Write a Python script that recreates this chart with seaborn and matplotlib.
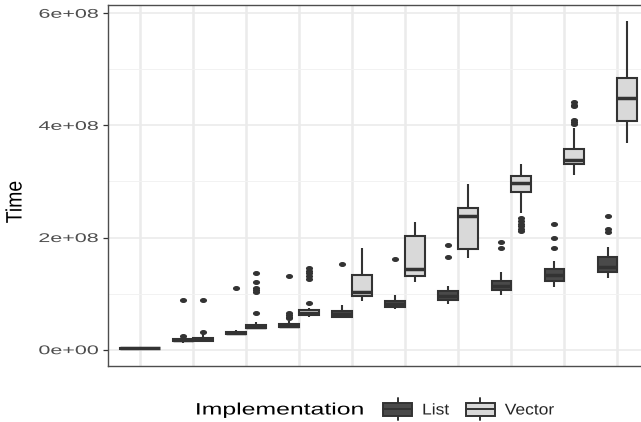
import numpy as np
import pandas as pd
import matplotlib.pyplot as plt
import seaborn as sns
from matplotlib import patheffects as pe
from matplotlib.transforms import Affine2D
from matplotlib.path import Path
from matplotlib.patches import Patch, Rectangle
from matplotlib.lines import Line2D
from matplotlib.legend_handler import HandlerBase
from matplotlib.ticker import MultipleLocator, FuncFormatter

# Data (times in 1e6 units), one box per size and implementation
sizes = ["1", "2", "3", "4", "5", "6", "7", "8", "9", "10"]
impls = ["List", "Vector"]

list_lo = [1, 12, 26, 39, 56, 72, 82, 98, 112, 127]
list_q1 = [1.8, 15, 28, 41, 59, 76, 88, 106, 122, 138]
list_med = [2.5, 16.5, 29.5, 43, 64, 81, 96, 114, 133, 147]
list_q3 = [3.2, 18.5, 31.5, 46, 69, 86, 104, 122, 143, 166]
list_hi = [4.5, 22, 35, 52, 79, 98, 113, 138, 159, 183]
list_out = [[], [25, 88], [110], [56, 59, 62, 65, 131], [153], [162],
            [166, 186], [182, 192], [182, 199, 224], [210, 215, 239]]

vec_lo = [1.5, 14, 36, 59, 86, 120, 163, 243, 311, 369]
vec_q1 = [2.2, 15.5, 38, 62, 96, 132, 179, 282, 331, 408]
vec_med = [3, 18.5, 41, 66, 103, 143, 239, 298, 338, 448]
vec_q3 = [3.8, 21, 44, 70, 134, 202, 253, 309, 358, 484]
vec_hi = [5.5, 28, 50, 74, 182, 227, 295, 332, 396, 586]
vec_out = [[], [31, 88], [65, 103, 106, 110, 121, 137], [83, 126, 131, 136, 140, 145],
           [], [], [], [212, 216, 220, 225, 230, 234], [402, 406, 410, 434, 437, 441], []]

LIST_FILL = "#4A4A4A"
VEC_FILL = "#D9D9D9"
EDGE = "#333333"

# observations that give exactly the read quartiles / whisker ends / outliers
rows = []
groups = [("List", list_lo, list_q1, list_med, list_q3, list_hi, list_out),
          ("Vector", vec_lo, vec_q1, vec_med, vec_q3, vec_hi, vec_out)]
for impl, lo, q1, med, q3, hi, out in groups:
    for i, s in enumerate(sizes):
        vals = [lo[i]] + [q1[i]] * 10 + [med[i]] * 10 + [q3[i]] * 10 + [hi[i]] + out[i]
        rows += [(s, impl, v * 1e6) for v in vals]
df = pd.DataFrame(rows, columns=["Size", "Implementation", "Time"])


class Stretch(pe.AbstractPathEffect):
    # the reference picture is stretched sideways, so widen the glyphs
    def __init__(self, sx, anchor="center"):
        super().__init__()
        self.sx = sx
        self.anchor = anchor

    def draw_path(self, renderer, gc, tpath, affine, rgbFace=None):
        bb = tpath.get_extents(affine)
        x0 = {"left": bb.x0, "right": bb.x1, "center": 0.5 * (bb.x0 + bb.x1)}[self.anchor]
        t = affine + Affine2D().translate(-x0, 0).scale(self.sx, 1).translate(x0, 0)
        renderer.draw_path(gc, tpath, t, rgbFace)


class BoxKey(HandlerBase):
    # ggplot style box glyph for the legend
    def create_artists(self, legend, orig_handle, xdescent, ydescent, width, height, fontsize, trans):
        x0, y0 = -xdescent, -ydescent
        ext = 0.38 * height
        stub = Line2D([x0 + width / 2] * 2, [y0 - ext, y0 + height + ext], color=EDGE, lw=1.4, transform=trans)
        box = Rectangle((x0, y0), width, height, facecolor=orig_handle.get_facecolor(),
                        edgecolor=EDGE, lw=1.4, transform=trans)
        med = Line2D([x0, x0 + width], [y0 + height / 2] * 2, color=EDGE, lw=1.4, transform=trans)
        return [stub, box, med]


sns.set_style("white")
plt.rcParams["font.family"] = ["Liberation Sans", "DejaVu Sans"]

fig = plt.figure(figsize=(6.41, 4.22), dpi=100)
ax = fig.add_axes([108.3 / 641, 1 - 365.5 / 422, 541 / 641, 360.8 / 422])

dot = Path.unit_circle().transformed(Affine2D().scale(1.6, 1))
sns.boxplot(
    data=df, x="Size", y="Time", hue="Implementation",
    order=sizes, hue_order=impls,
    palette={"List": LIST_FILL, "Vector": VEC_FILL},
    width=0.75, gap=0, linewidth=1.5, linecolor=EDGE,
    showcaps=False, legend=False,
    medianprops=dict(linewidth=2.5, color=EDGE),
    flierprops=dict(marker=dot, markersize=4.1, markerfacecolor=EDGE, markeredgecolor=EDGE),
    ax=ax,
)

# ggplot-like expansion of the data range
all_vals = df["Time"]
span = all_vals.max() - all_vals.min()
ax.set_ylim(all_vals.min() - 0.05 * span, all_vals.max() + 0.05 * span)
ax.set_xlim(-0.6, len(sizes) - 0.4)

ax.yaxis.set_major_locator(MultipleLocator(2e8))
ax.yaxis.set_minor_locator(MultipleLocator(1e8))
ax.yaxis.set_major_formatter(FuncFormatter(lambda v, p: f"{v:.0e}"))
ax.set_axisbelow(True)
ax.yaxis.grid(True, which="major", color="#EBEBEB", lw=1.2)
ax.yaxis.grid(True, which="minor", color="#F2F2F2", lw=0.7)
ax.xaxis.grid(True, which="major", color="#EBEBEB", lw=1.8)
ax.tick_params(axis="x", bottom=False, labelbottom=False)
ax.tick_params(axis="y", which="major", left=True, length=3.6, width=0.9, color=EDGE,
               pad=3.6, labelsize=9.1, labelcolor="#4D4D4D")
ax.tick_params(axis="y", which="minor", left=False)
for sp in ax.spines.values():
    sp.set_color("#4D4D4D")
    sp.set_linewidth(1.0)

ax.set_xlabel("")
ax.set_ylabel("Time", fontsize=14, color="black", va="center")
ax.yaxis.set_label_coords((16 - 108.3) / 541, (365.5 - 202) / 360.8)
ax.yaxis.label.set_path_effects([Stretch(1.15, "center")])

for t in ax.get_yticklabels():
    t.set_path_effects([Stretch(1.7, "right")])

# legend: title on the left, box keys to the right
title = fig.text(280 / 641, 1 - 410 / 422, "Implementation", fontsize=11.9,
                 ha="center", va="center", color="black")
title.set_path_effects([Stretch(1.5, "center")])

leg = fig.legend(
    handles=[Patch(facecolor=LIST_FILL), Patch(facecolor=VEC_FILL)], labels=impls,
    handler_map={Patch: BoxKey()}, ncol=2, frameon=False,
    loc="center left", bbox_to_anchor=(383 / 641, 1 - 410 / 422),
    fontsize=11.2, borderpad=0, borderaxespad=0,
    handlelength=1.87, handleheight=0.9, handletextpad=0.65, columnspacing=1.23,
)
for t in leg.get_texts():
    t.set_path_effects([Stretch(1.12, "left")])

fig.savefig("out.png", dpi=100)
